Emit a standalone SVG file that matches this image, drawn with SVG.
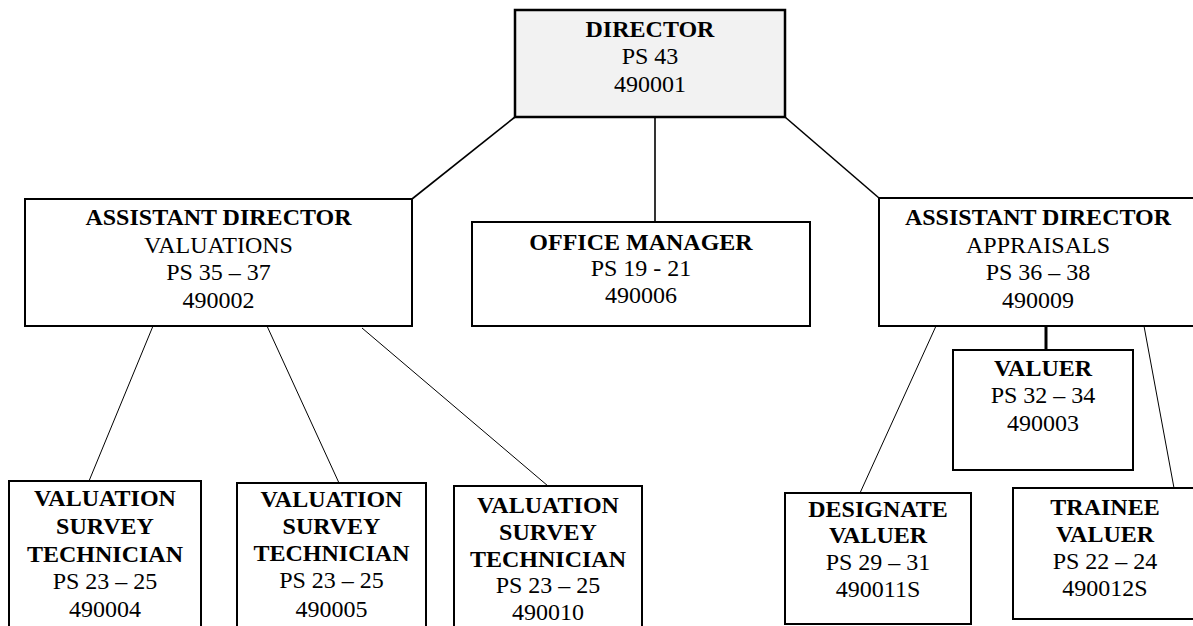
<svg xmlns="http://www.w3.org/2000/svg" width="1193" height="626" viewBox="0 0 1193 626">
<style>
.box{fill:#ffffff;stroke:#000000;stroke-width:2}
.dir{fill:#f2f2f2;stroke:#000000;stroke-width:2.5}
text{font-family:"Liberation Serif","Times New Roman",serif;font-size:24px;fill:#000000;text-anchor:middle}
.b{font-weight:bold}
.c{stroke:#000000;fill:none}
.thin{stroke-width:1}
.mid{stroke-width:1.6}
.thick{stroke-width:3}
</style>
<rect width="1193" height="626" fill="#ffffff"/>
<g id="connectors">
<line class="c mid" x1="515" y1="117" x2="412" y2="199"/>
<line class="c mid" x1="655" y1="117" x2="655" y2="222"/>
<line class="c mid" x1="785" y1="117" x2="879" y2="198"/>
<line class="c thin" x1="153" y1="326" x2="89" y2="481"/>
<line class="c thin" x1="267" y1="326" x2="339" y2="483"/>
<line class="c thin" x1="362" y1="328" x2="548" y2="486"/>
<line class="c thin" x1="936" y1="326" x2="860" y2="493"/>
<line class="c thick" x1="1046" y1="326" x2="1046" y2="350"/>
<line class="c thin" x1="1144" y1="326" x2="1174" y2="488"/>
</g>
<g id="director">
<rect class="dir" x="515" y="10" width="270" height="107"/>
<text class="b" x="650" y="37">DIRECTOR</text>
<text x="650" y="64">PS 43</text>
<text x="650" y="92">490001</text>
</g>
<g id="ad-valuations">
<rect class="box" x="25" y="199" width="387" height="127"/>
<text class="b" x="218.5" y="225">ASSISTANT DIRECTOR</text>
<text x="218.5" y="253">VALUATIONS</text>
<text x="218.5" y="280">PS 35 – 37</text>
<text x="218.5" y="308">490002</text>
</g>
<g id="office-manager">
<rect class="box" x="472" y="222" width="338" height="104"/>
<text class="b" x="641" y="250">OFFICE MANAGER</text>
<text x="641" y="276">PS 19 - 21</text>
<text x="641" y="303">490006</text>
</g>
<g id="ad-appraisals">
<rect class="box" x="879" y="198" width="320" height="128"/>
<text class="b" x="1038" y="225">ASSISTANT DIRECTOR</text>
<text x="1038" y="253">APPRAISALS</text>
<text x="1038" y="280">PS 36 – 38</text>
<text x="1038" y="308">490009</text>
</g>
<g id="valuer">
<rect class="box" x="953" y="350" width="180" height="120"/>
<text class="b" x="1043" y="376">VALUER</text>
<text x="1043" y="403">PS 32 – 34</text>
<text x="1043" y="431">490003</text>
</g>
<g id="vst-490004">
<rect class="box" x="9" y="481" width="192" height="160"/>
<text class="b" x="105" y="506">VALUATION</text>
<text class="b" x="105" y="534">SURVEY</text>
<text class="b" x="105" y="562">TECHNICIAN</text>
<text x="105" y="589">PS 23 – 25</text>
<text x="105" y="617">490004</text>
</g>
<g id="vst-490005">
<rect class="box" x="237" y="483" width="189" height="160"/>
<text class="b" x="331.5" y="507">VALUATION</text>
<text class="b" x="331.5" y="534">SURVEY</text>
<text class="b" x="331.5" y="561">TECHNICIAN</text>
<text x="331.5" y="588">PS 23 – 25</text>
<text x="331.5" y="617">490005</text>
</g>
<g id="vst-490010">
<rect class="box" x="454" y="486" width="188" height="160"/>
<text class="b" x="548" y="513">VALUATION</text>
<text class="b" x="548" y="540">SURVEY</text>
<text class="b" x="548" y="567">TECHNICIAN</text>
<text x="548" y="593">PS 23 – 25</text>
<text x="548" y="620">490010</text>
</g>
<g id="designate-valuer">
<rect class="box" x="785" y="493" width="186" height="131"/>
<text class="b" x="878" y="517">DESIGNATE</text>
<text class="b" x="878" y="543">VALUER</text>
<text x="878" y="570">PS 29 – 31</text>
<text x="878" y="597">490011S</text>
</g>
<g id="trainee-valuer">
<rect class="box" x="1013" y="488" width="184" height="131"/>
<text class="b" x="1105" y="515">TRAINEE</text>
<text class="b" x="1105" y="542">VALUER</text>
<text x="1105" y="569">PS 22 – 24</text>
<text x="1105" y="596">490012S</text>
</g>
</svg>
